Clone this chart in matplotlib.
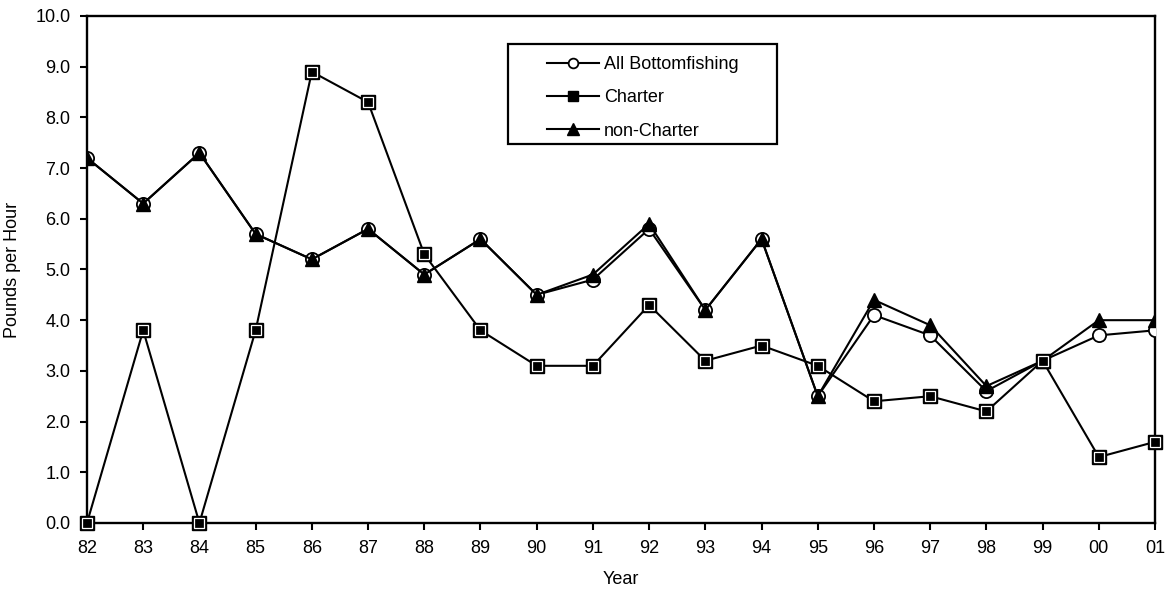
import numpy as np
import matplotlib.pyplot as plt
from matplotlib.patches import Rectangle

plt.rcParams['font.family'] = ['Liberation Sans', 'DejaVu Sans']

years = ['82', '83', '84', '85', '86', '87', '88', '89', '90', '91',
         '92', '93', '94', '95', '96', '97', '98', '99', '00', '01']
all_bottom = [7.2, 6.3, 7.3, 5.7, 5.2, 5.8, 4.9, 5.6, 4.5, 4.8,
              5.8, 4.2, 5.6, 2.5, 4.1, 3.7, 2.6, 3.2, 3.7, 3.8]
charter = [0.0, 3.8, 0.0, 3.8, 8.9, 8.3, 5.3, 3.8, 3.1, 3.1,
           4.3, 3.2, 3.5, 3.1, 2.4, 2.5, 2.2, 3.2, 1.3, 1.6]
non_charter = [7.2, 6.3, 7.3, 5.7, 5.2, 5.8, 4.9, 5.6, 4.5, 4.9,
               5.9, 4.2, 5.6, 2.5, 4.4, 3.9, 2.7, 3.2, 4.0, 4.0]

x = np.arange(len(years))

fig = plt.figure(figsize=(11.66, 5.92), dpi=100)
ax = fig.add_axes([0.0746, 0.1166, 0.916, 0.8564])

lw = 1.5
fs = 13
ax.plot(x, all_bottom, color='black', lw=lw, marker='o', ms=9.5,
        mfc='white', mec='black', mew=1.3, zorder=3)
ax.plot(x, non_charter, color='black', lw=lw, marker='^', ms=10,
        mfc='black', mec='black', zorder=4)
ax.plot(x, charter, color='black', lw=lw, marker='s', ms=9.5,
        mfc='black', mec='black', zorder=5, clip_on=False)
# white inner highlight on the square markers
ax.plot(x, charter, ls='none', marker='s', ms=6.8, mfc='none',
        mec='white', mew=0.9, zorder=6, clip_on=False)

h_all, = ax.plot([], [], color='black', lw=lw, marker='o', ms=7,
                 mfc='white', mec='black', mew=1.3)
h_ch, = ax.plot([], [], color='black', lw=lw, marker='s', ms=7,
                mfc='black', mec='black')
h_nc, = ax.plot([], [], color='black', lw=lw, marker='^', ms=9,
                mfc='black', mec='black')
leg = ax.legend([h_all, h_ch, h_nc], ['All Bottomfishing', 'Charter', 'non-Charter'],
                loc='upper left', bbox_to_anchor=(0.4307, 0.921), frameon=False,
                fontsize=fs, handlelength=2.9, labelspacing=0.9, borderpad=0,
                handletextpad=0.25, borderaxespad=0)
ax.add_patch(Rectangle((0.3942, 0.7475), 0.646 - 0.3942, 0.9448 - 0.7475,
                       transform=ax.transAxes, fill=False, ec='black', lw=1.6,
                       zorder=7))

ax.set_xlim(0, len(years) - 1)
ax.set_ylim(0, 10)
ax.set_xticks(x)
ax.set_xticklabels(years)
ax.set_yticks(np.arange(0, 10.1, 1.0))
ax.set_yticklabels(['%.1f' % v for v in np.arange(0, 10.1, 1.0)])
ax.tick_params(direction='out', length=5, width=1.5, labelsize=fs, colors='black', pad=7)
for s in ax.spines.values():
    s.set_linewidth(1.7)
    s.set_color('black')

ax.set_xlabel('Year', fontsize=fs, labelpad=10)
ax.set_ylabel('Pounds per Hour', fontsize=fs, labelpad=10)

fig.savefig('out.png', dpi=100)
